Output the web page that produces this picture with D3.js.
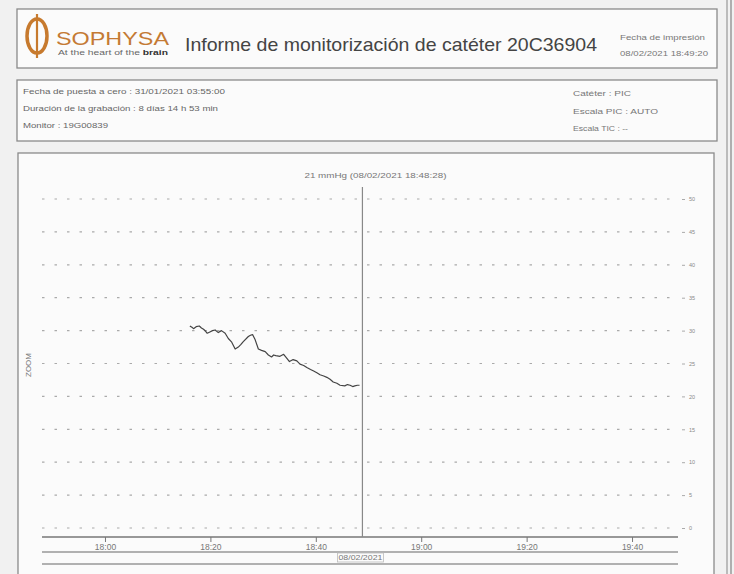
<!DOCTYPE html>
<html><head><meta charset="utf-8">
<script src="https://cdn.jsdelivr.net/npm/d3@7"></script>
<style>
html,body{margin:0;padding:0;background:#f1f1f1;}
svg{display:block;font-family:"Liberation Sans",Arial,sans-serif;}
</style></head>
<body>
<svg id="c" width="734" height="574"></svg>
<script>
// ---- data ----
const reportTitle = "Informe de monitorización de catéter 20C36904";
const printLabel = "Fecha de impresión";
const printDate = "08/02/2021 18:49:20";
const infoLeft = ["Fecha de puesta a cero : 31/01/2021 03:55:00",
                  "Duración de la grabación : 8 días 14 h 53 min",
                  "Monitor : 19G00839"];
const infoRight = ["Catéter : PIC", "Escala PIC : AUTO", "Escala TIC : --"];
const xTickLabels = ["18:00","18:20","18:40","19:00","19:20","19:40"];
const yTickValues = [0,5,10,15,20,25,30,35,40,45,50];
const dateLabel = "08/02/2021";
const cursorLabel = "21 mmHg (08/02/2021 18:48:28)";
const cursorTime = "18:48:28";
const axisTitle = "ZOOM";
// minutes after 18:00
const pressureMinutes = [16.1,16.5,16.8,17.3,17.9,18.3,18.7,19.1,19.4,19.9,20.4,20.9,21.5,22.1,22.8,23.4,24.0,24.7,25.3,25.8,26.2,27.2,27.6,28.0,28.5,29.1,29.7,30.4,31.0,31.6,32.0,32.4,33.2,33.9,34.4,35.0,35.7,36.4,37.0,37.7,38.3,39.0,39.5,40.2,40.8,41.5,42.1,42.7,43.3,44.0,44.6,45.5,46.0,46.5,47.0,47.4,47.9,48.3];
const pressureValues  = [31.0,30.8,30.6,30.9,31.0,30.7,30.5,30.2,29.9,30.1,30.3,30.4,30.0,30.3,29.9,29.1,28.6,27.5,27.8,28.2,28.6,29.4,29.6,29.7,28.9,27.5,27.3,27.1,26.6,26.3,26.6,26.5,26.4,26.7,26.2,25.6,25.9,25.7,25.2,25.0,24.7,24.4,24.2,23.9,23.6,23.4,23.2,22.9,22.5,22.3,22.0,21.9,22.1,22.0,21.8,21.9,22.0,22.0];

// ---- drawing ----
const svg = d3.select("#c");
const parse = d3.timeParse("%H:%M:%S");
const base = parse("18:00:00");
const tFromMin = m => new Date(base.getTime() + m*60000);

function box(x,y,w,h){
  svg.append("rect").attr("x",x).attr("y",y).attr("width",w).attr("height",h)
    .attr("fill","#fbfbfb").attr("stroke","#8a8a8a").attr("stroke-width",1.3);
}
box(17,9,700,59);
box(17,80,700,61);
box(18,153,696,430);
svg.append("line").attr("x1",727).attr("x2",727).attr("y1",0).attr("y2",574).attr("stroke","#bbb").attr("stroke-width",2);
svg.append("line").attr("x1",731).attr("x2",731).attr("y1",0).attr("y2",574).attr("stroke","#999").attr("stroke-width",1.5);

function label(x,y,size,fill,txt,len,anchor){
  const t = svg.append("text").attr("x",x).attr("y",y).attr("font-size",size).attr("fill",fill).text(txt);
  if(len) t.attr("textLength",len).attr("lengthAdjust","spacingAndGlyphs");
  if(anchor) t.attr("text-anchor",anchor);
  return t;
}

// header logo
const logo = svg.append("g");
logo.append("ellipse").attr("cx",37).attr("cy",36).attr("rx",10).attr("ry",17)
  .attr("fill","none").attr("stroke","#c77a2e").attr("stroke-width",3.5);
logo.append("line").attr("x1",37).attr("x2",37).attr("y1",14).attr("y2",58)
  .attr("stroke","#c77a2e").attr("stroke-width",2.2);
label(56,45,18,"#c47a34","SOPHYSA",113);
const tag = svg.append("text").attr("x",58).attr("y",55).attr("font-size",6.5).attr("fill","#666")
  .attr("textLength",110).attr("lengthAdjust","spacingAndGlyphs");
tag.append("tspan").text("At the heart of the ");
tag.append("tspan").attr("font-weight","bold").attr("fill","#333").text("brain");

label(185,51,18.5,"#444",reportTitle,412);
label(620,40,7,"#777",printLabel,85);
label(620,56,7,"#777",printDate,88);

// info box
infoLeft.forEach((d,i)=>label(23,94+i*17,7.5,"#666",d,[202,195,85][i]));
infoRight.forEach((d,i)=>label(573,96+i*17.5,7.5,"#777",d,[58,85,55][i]));

// scales
const x = d3.scaleTime().domain([tFromMin(-11.95), tFromMin(109.1)]).range([42,680]);
const y = d3.scaleLinear().domain([0,50]).range([530,201]);

// grid
svg.append("g").selectAll("line").data(yTickValues).join("line")
  .attr("x1",42).attr("x2",676).attr("y1",d=>y(d)-2).attr("y2",d=>y(d)-2)
  .attr("stroke","#aaa").attr("stroke-width",1.2).attr("stroke-dasharray","2.5,10");

// right axis
const yAxis = d3.axisRight(y).tickValues(yTickValues).tickSize(3).tickPadding(4);
const ya = svg.append("g").attr("transform","translate(682,-2)").call(yAxis);
ya.select(".domain").remove();
ya.selectAll("line").attr("stroke","#aaa");
ya.selectAll("text").attr("font-size",5.5).attr("fill","#888").attr("font-family","Liberation Sans");

// left title
svg.append("text").attr("transform","translate(31,365) rotate(-90)").attr("text-anchor","middle")
  .attr("font-size",8).attr("fill","#777").text(axisTitle);

// bottom axis
const xTicks = xTickLabels.map(s=>parse(s+":00"));
const xAxis = d3.axisBottom(x).tickValues(xTicks).tickFormat(d3.timeFormat("%H:%M")).tickSize(5).tickPadding(2);
const xa = svg.append("g").attr("transform","translate(0,537)").call(xAxis);
xa.select(".domain").attr("d","M42,0H678").attr("stroke","#777").attr("stroke-width",1.3);
xa.selectAll(".tick line").attr("stroke","#777");
xa.selectAll(".tick text").attr("font-size",8.5).attr("fill","#777").attr("font-family","Liberation Sans");
svg.append("line").attr("x1",42).attr("x2",678).attr("y1",552).attr("y2",552).attr("stroke","#999").attr("stroke-width",1.3);
svg.append("line").attr("x1",42).attr("x2",678).attr("y1",564).attr("y2",564).attr("stroke","#999").attr("stroke-width",1.3);

// cursor
const cx = x(parse(cursorTime));
svg.append("line").attr("x1",cx+2).attr("x2",cx+2).attr("y1",187).attr("y2",537)
  .attr("stroke","#888").attr("stroke-width",1.2);
label(cx+15,178,6.5,"#777",cursorLabel,142,"middle");
label(cx,560,7.5,"#777",dateLabel,44,"middle");
svg.append("rect").attr("x",cx-23).attr("y",553).attr("width",46).attr("height",9)
  .attr("fill","none").attr("stroke","#bbb").attr("stroke-width",0.8);

// pressure line
const pts = pressureMinutes.map((m,i)=>[tFromMin(m), pressureValues[i]]);
svg.append("path").datum(pts)
  .attr("d", d3.line().x(d=>x(d[0])).y(d=>y(d[1])))
  .attr("fill","none").attr("stroke","#444").attr("stroke-width",1.2).attr("stroke-linejoin","round");
</script>
</body></html>
